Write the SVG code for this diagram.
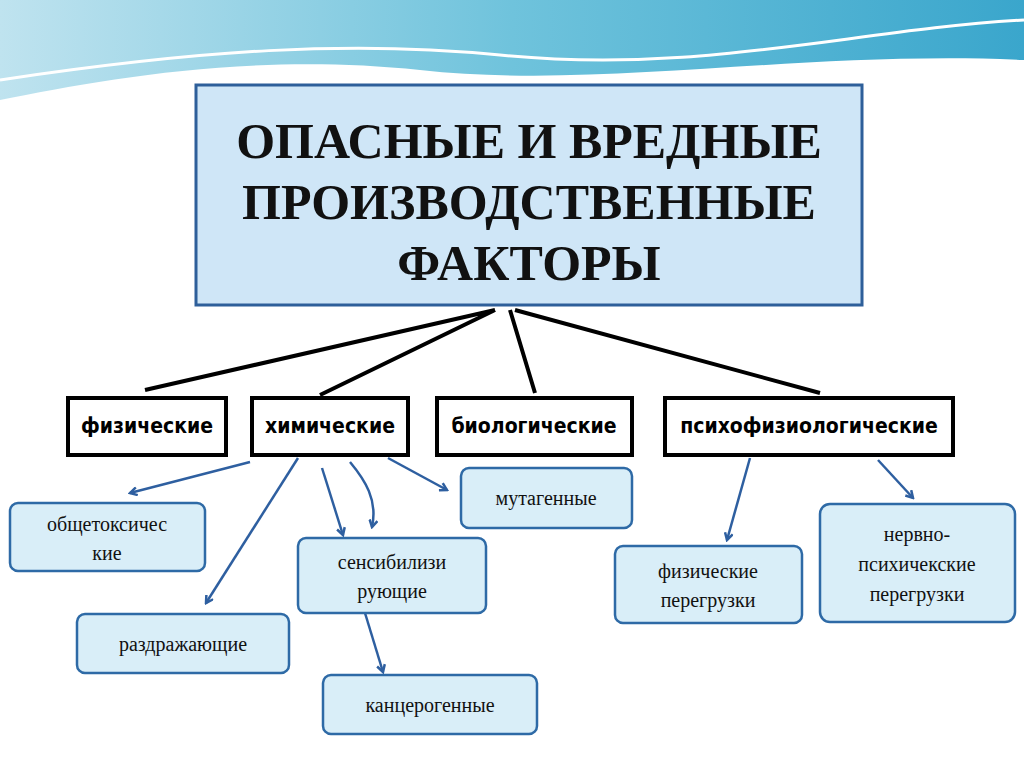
<svg xmlns="http://www.w3.org/2000/svg" width="1024" height="768" viewBox="0 0 1024 768">
<defs>
<linearGradient id="w" x1="0" y1="0" x2="1" y2="0"><stop offset="0" stop-color="#bfe3ef"/><stop offset="0.5" stop-color="#6fc3dc"/><stop offset="1" stop-color="#3aa6cc"/></linearGradient>
<marker id="a" markerWidth="10" markerHeight="10" refX="8" refY="5" orient="auto" markerUnits="userSpaceOnUse"><path d="M1,1 L8,5 L1,9" fill="none" stroke="#2e5fa0" stroke-width="2.5"/></marker>
</defs>
<style>
.t{font-family:"Liberation Serif",serif;font-weight:bold;font-size:50px;fill:#111;text-anchor:middle}
.c{fill:#fff;stroke:#000;stroke-width:4}
.ct{font-family:"DejaVu Sans Condensed","Liberation Sans Narrow",sans-serif;font-weight:bold;font-size:21px;fill:#000;text-anchor:middle}
.b{fill:#d9eef8;stroke:#2e6aa6;stroke-width:2.5}
.bt{font-family:"Liberation Serif","DejaVu Serif",serif;font-size:20px;fill:#111;text-anchor:middle}
.k{stroke:#000;stroke-width:4;fill:none}
.ar{stroke:#2e5fa0;stroke-width:2.5;fill:none;marker-end:url(#a)}
</style>
<rect width="1024" height="768" fill="#fff"/>
<path d="M0,0 H1024 V60 C800,50 600,90 420,70 C250,52 100,80 0,100 Z" fill="url(#w)"/>
<path d="M0,80 C200,50 350,40 500,55 C700,75 850,30 1024,20" fill="none" stroke="#fff" stroke-width="3"/>
<g id="title"><rect x="196" y="85" width="666" height="220" fill="#cfe6f7" stroke="#2e5f9a" stroke-width="3"/>
<text class="t" x="529" y="158">ОПАСНЫЕ И ВРЕДНЫЕ</text><text class="t" x="529" y="219">ПРОИЗВОДСТВЕННЫЕ</text><text class="t" x="529" y="280">ФАКТОРЫ</text></g>
<g id="connectors">
<path class="k" d="M495,310 L145,390 M495,310 L320,395 M510,310 L535,393 M515,310 L820,393"/>
<path class="ar" d="M250,462 L130,493"/>
<path class="ar" d="M298,458 L206,603"/>
<path class="ar" d="M322,468 L343,535"/>
<path class="ar" d="M350,462 C365,480 378,500 372,527"/>
<path class="ar" d="M388,458 L447,490"/>
<path class="ar" d="M365,613 L383,672"/>
<path class="ar" d="M750,458 L727,540"/>
<path class="ar" d="M878,460 L913,498"/>
</g>
<g id="n1"><rect class="c" x="68" y="398" width="158" height="57"/><text class="ct" x="147" y="433">физические</text></g>
<g id="n2"><rect class="c" x="252" y="398" width="156" height="57"/><text class="ct" x="330" y="433">химические</text></g>
<g id="n3"><rect class="c" x="437" y="398" width="195" height="57"/><text class="ct" x="534" y="433">биологические</text></g>
<g id="n4"><rect class="c" x="665" y="398" width="288" height="57"/><text class="ct" x="809" y="433">психофизиологические</text></g>
<g id="b1"><rect class="b" x="10" y="503" width="195" height="68" rx="8"/><text class="bt" x="107" y="531">общетоксичес</text><text class="bt" x="107" y="560">кие</text></g>
<g id="b2"><rect class="b" x="77" y="614" width="212" height="59" rx="8"/><text class="bt" x="183" y="651">раздражающие</text></g>
<g id="b3"><rect class="b" x="298" y="538" width="188" height="75" rx="8"/><text class="bt" x="392" y="569">сенсибилизи</text><text class="bt" x="392" y="598">рующие</text></g>
<g id="b4"><rect class="b" x="323" y="675" width="214" height="59" rx="8"/><text class="bt" x="430" y="712">канцерогенные</text></g>
<g id="b5"><rect class="b" x="461" y="468" width="171" height="60" rx="8"/><text class="bt" x="546" y="505">мутагенные</text></g>
<g id="b6"><rect class="b" x="615" y="546" width="187" height="77" rx="8"/><text class="bt" x="708" y="578">физические</text><text class="bt" x="708" y="607">перегрузки</text></g>
<g id="b7"><rect class="b" x="820" y="504" width="195" height="118" rx="10"/><text class="bt" x="917" y="541">нервно-</text><text class="bt" x="917" y="571">психичекские</text><text class="bt" x="917" y="601">перегрузки</text></g>
</svg>
